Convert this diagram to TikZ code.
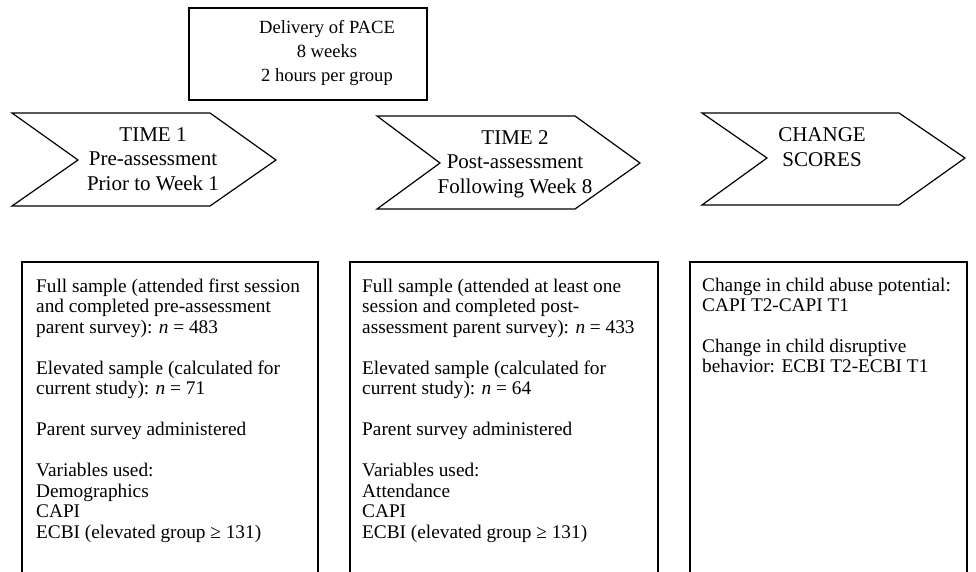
\documentclass[tikz,border=0pt]{standalone}
\usepackage{fontspec}
\setmainfont{Liberation Serif}
\newcommand{\gapline}{\\[20.5pt]}
\tikzset{
  chev/.style={draw=black, line width=1.2pt, line join=miter, fill=white},
  frame/.style={draw=black, line width=1.6pt},
  boxtext/.style={anchor=base west, inner sep=0pt, font=\fontsize{19.3}{20.5}\selectfont},
  chevtext/.style={anchor=base, inner sep=0pt, font=\fontsize{21}{24.5}\selectfont},
  toptext/.style={anchor=base, inner sep=0pt, font=\fontsize{18.6}{24}\selectfont}
}
\begin{document}
\begin{tikzpicture}[x=1pt,y=1pt]
\useasboundingbox (0,0) rectangle (976,571);
\clip (0,0) rectangle (976,571);
\fill[white] (0,0) rectangle (976,571);
% top box
\draw[frame] (189,563) rectangle (427,471);
\node[toptext] (pace) at (327,537) {\parbox[t]{240pt}{\centering Delivery of PACE\\ 8 weeks\\ 2 hours per group}};
% chevrons
\draw[chev] (12,458) -- (210,458) -- (276,411) -- (210,365) -- (12,365) -- (78,411) -- cycle;
\draw[chev] (377,455) -- (575,455) -- (640,408) -- (575,362) -- (377,362) -- (440,408) -- cycle;
\draw[chev] (702,458) -- (899,458) -- (965,413) -- (899,366) -- (702,366) -- (767,413) -- cycle;
\node[chevtext] (t1) at (153,429.5) {\parbox[t]{200pt}{\centering TIME 1\\ Pre-assessment\\ Prior to Week 1}};
\node[chevtext] (t2) at (515,426.5) {\parbox[t]{200pt}{\centering TIME 2\\ Post-assessment\\ Following Week 8}};
\node[chevtext] (t3) at (822,429) {\parbox[t]{200pt}{\centering CHANGE\\ SCORES}};
% bottom boxes (open at the bottom edge)
\draw[frame] (22,-10) |- (318,309) -- (318,-10);
\draw[frame] (350,-10) |- (658,309) -- (658,-10);
\draw[frame] (690,-10) |- (967,309) -- (967,-10);
\node[boxtext] (b1) at (36,279) {\parbox[t]{285pt}{\raggedright
Full sample (attended first session\\
and completed pre-assessment\\
parent survey): \textit{n} = 483\gapline
Elevated sample (calculated for\\
current study): \textit{n} = 71\gapline
Parent survey administered\gapline
Variables used:\\
Demographics\\
CAPI\\
ECBI (elevated group ≥ 131)}};
\node[boxtext] (b2) at (362,279) {\parbox[t]{295pt}{\raggedright
Full sample (attended at least one\\
session and completed post-\\
assessment parent survey): \textit{n} = 433\gapline
Elevated sample (calculated for\\
current study): \textit{n} = 64\gapline
Parent survey administered\gapline
Variables used:\\
Attendance\\
CAPI\\
ECBI (elevated group ≥ 131)}};
\node[boxtext] (b3) at (702,280) {\parbox[t]{265pt}{\raggedright
Change in child abuse potential:\\
CAPI T2-CAPI T1\gapline
Change in child disruptive\\
behavior: ECBI T2-ECBI T1}};
\end{tikzpicture}
\end{document}
